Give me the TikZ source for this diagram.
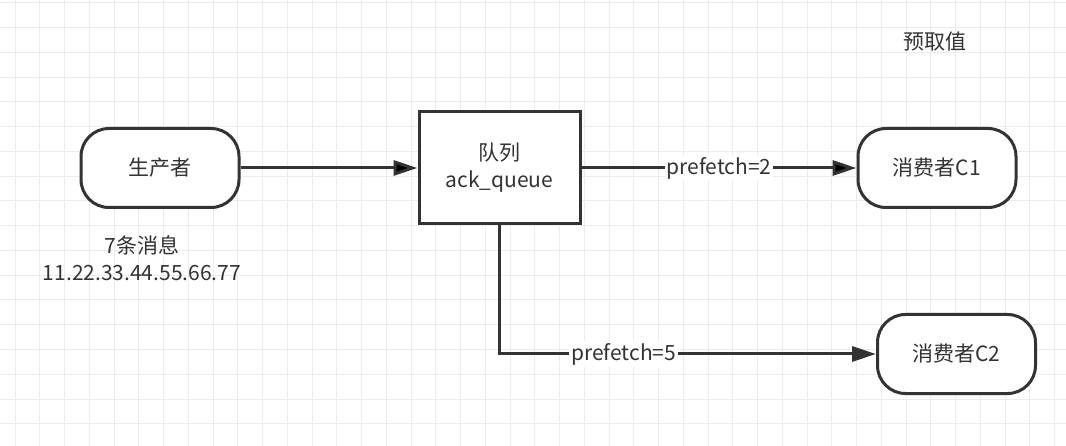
\documentclass[tikz,border=0pt]{standalone}
\usepackage{fontspec}
\setmainfont{Noto Sans CJK SC}
\usetikzlibrary{arrows.meta}
\definecolor{edge_gray}{RGB}{51,51,51}
\definecolor{text_gray}{RGB}{51,51,51}
\definecolor{grid_minor}{RGB}{236,236,236}

\begin{document}
\begin{tikzpicture}[x=1pt,y=-1pt,->,>={Triangle[length=24pt,width=15pt]},line width=3pt]
    \tikzstyle{every node}=[text=text_gray,font=\fontsize{21}{27}\selectfont]
    \tikzstyle{term}=[draw=edge_gray, rounded corners=28pt, fill=white, minimum width=158pt, minimum height=79pt]
    \tikzstyle{queue}=[draw=edge_gray, rectangle, fill=white, align=center, minimum width=161pt, minimum height=112pt]
    \tikzstyle{lbl}=[fill=white, inner sep=2pt]

    \useasboundingbox (0,0) rectangle (1066,446);
    \fill[white] (0,0) rectangle (1066,446);
    % grid
    \foreach \i in {0,...,42}
      \draw[-, line width=1pt, grid_minor] (15+24.75*\i,0) -- (15+24.75*\i,446);
    \foreach \j in {0,...,17}
      \draw[-, line width=1pt, grid_minor] (0,3+24.75*\j) -- (1066,3+24.75*\j);

    \node[term]  (prod) at (160,168)   {生产者};
    \node[queue] (q)    at (499.5,168) {队列\\ack\_queue};
    \node[term]  (c1)   at (937,168)   {消费者C1};
    \node[term]  (c2)   at (956.5,354) {消费者C2};
    \node[align=center] (msg)  at (142,258) {7条消息\\11.22.33.44.55.66.77};
    \node             (pre)  at (935,42)  {预取值};

    \path[draw=edge_gray]
     (prod) edge (q)
     (q) edge node[lbl] {prefetch=2} (c1)
     ;
    \draw[edge_gray] (q.south) |- node[lbl, pos=0.665] {prefetch=5} (c2.west);
\end{tikzpicture}
\end{document}
